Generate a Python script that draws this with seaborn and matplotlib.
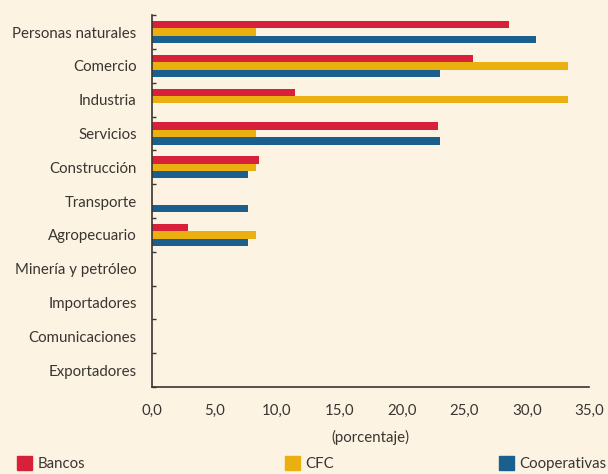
import matplotlib
matplotlib.use("Agg")
import matplotlib.pyplot as plt
import matplotlib.patches as mpatches
import pandas as pd
import seaborn as sns

# data (percent of each institution type's loans by sector)
sectores = ["Personas naturales", "Comercio", "Industria", "Servicios",
            "Construcción", "Transporte", "Agropecuario", "Minería y petróleo",
            "Importadores", "Comunicaciones", "Exportadores"]
bancos = [28.57, 25.71, 11.43, 22.86, 8.57, 0.0, 2.86, 0.0, 0.0, 0.0, 0.0]
cfc = [8.33, 33.33, 33.33, 8.33, 8.33, 0.0, 8.33, 0.0, 0.0, 0.0, 0.0]
cooperativas = [30.77, 23.08, 0.0, 23.08, 7.69, 7.69, 7.69, 0.0, 0.0, 0.0, 0.0]
series = ["Bancos", "CFC", "Cooperativas"]
colores = ["#d7203a", "#e9b00f", "#1a5f8e"]
xticks = [0, 5, 10, 15, 20, 25, 30, 35]

bg = "#fcf3e3"
ink = "#3a3530"
fs = 10.8

sns.set_theme(style="white")
plt.rcParams["font.family"] = ["Lato", "DejaVu Sans"]

df = pd.DataFrame({
    "sector": sectores * 3,
    "valor": bancos + cfc + cooperativas,
    "serie": ["Bancos"] * 11 + ["CFC"] * 11 + ["Cooperativas"] * 11,
})

fig = plt.figure(figsize=(6.08, 4.74), dpi=100, facecolor=bg)
ax = fig.add_axes([0.25, 0.1835, 0.719, 0.7845], facecolor=bg)

sns.barplot(data=df, y="sector", x="valor", hue="serie", order=sectores,
            hue_order=series, palette=colores, saturation=1, orient="h",
            width=0.66, linewidth=0, legend=False, ax=ax)

ax.set_xlim(0, 35)
ax.set_ylim(10.5, -0.5)
ax.set_xticks(xticks)
ax.set_xticklabels([f"{t:.1f}".replace(".", ",") for t in xticks],
                   fontsize=fs, color=ink)
ax.set_yticks(range(len(sectores)))
ax.set_yticklabels(sectores, fontsize=fs, color=ink)
ax.tick_params(axis="y", length=0, pad=11)
ax.tick_params(axis="x", direction="in", length=4, width=1, color=ink, pad=12)
# small ticks at category boundaries
ax.set_yticks([i - 0.5 for i in range(len(sectores) + 1)], minor=True)
ax.tick_params(axis="y", which="minor", direction="in", length=3, width=1,
               color=ink, left=True)

ax.set_xlabel("(porcentaje)", fontsize=fs, color=ink, labelpad=9)
ax.set_ylabel("")
for s in ["top", "right"]:
    ax.spines[s].set_visible(False)
for s in ["left", "bottom"]:
    ax.spines[s].set_color(ink)
    ax.spines[s].set_linewidth(1.2)

# legend along the bottom
pos = [0.018, 0.458, 0.81]
for name, col, x in zip(series, colores, pos):
    h = mpatches.Patch(color=col, label=name)
    fig.legend(handles=[h], loc="lower left", bbox_to_anchor=(x - 0.012, -0.022),
               frameon=False, fontsize=fs, handlelength=1.0, handleheight=1.0,
               handletextpad=0.35, labelcolor=ink)

fig.savefig("out.png", dpi=100, facecolor=bg)
